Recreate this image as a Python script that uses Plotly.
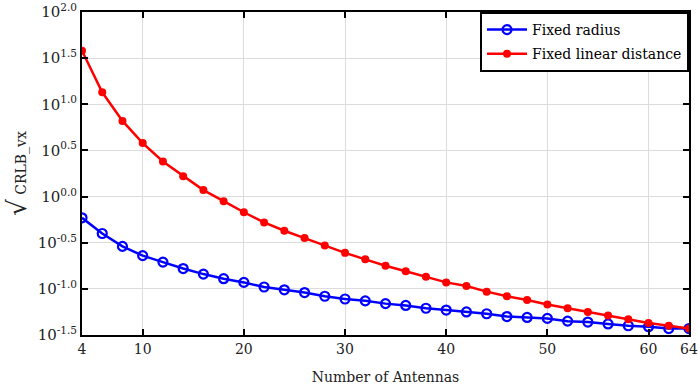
import plotly.graph_objects as go

antennas = list(range(4, 65, 2))
fixed_radius_exp = [-0.23, -0.40, -0.54, -0.64, -0.71, -0.78, -0.84, -0.89, -0.93, -0.98,
                    -1.01, -1.04, -1.08, -1.11, -1.13, -1.16, -1.18, -1.21, -1.23, -1.25,
                    -1.27, -1.30, -1.31, -1.32, -1.35, -1.36, -1.38, -1.40, -1.41, -1.43, -1.43]
fixed_linear_exp = [1.58, 1.13, 0.82, 0.58, 0.38, 0.22, 0.07, -0.05, -0.17, -0.28,
                    -0.37, -0.45, -0.53, -0.61, -0.68, -0.75, -0.81, -0.87, -0.93, -0.97,
                    -1.03, -1.08, -1.12, -1.17, -1.21, -1.25, -1.29, -1.33, -1.37, -1.40, -1.43]
fixed_radius = [10 ** e for e in fixed_radius_exp]
fixed_linear = [10 ** e for e in fixed_linear_exp]

x_ticks = [4, 10, 20, 30, 40, 50, 60, 64]
y_tick_exps = [-1.5, -1.0, -0.5, 0.0, 0.5, 1.0, 1.5, 2.0]
y_tick_labels = ["10<sup>%s</sup>" % ("%.1f" % e) for e in y_tick_exps]

FONT = "DejaVu Serif"

fig = go.Figure()
fig.add_trace(go.Scatter(
    x=antennas, y=fixed_radius, mode="lines+markers", name="Fixed radius",
    legendgroup="a",
    line=dict(color="#0000ff", width=2.5),
    marker=dict(symbol="circle-open", size=9, color="#0000ff", line=dict(width=2.2)),
))
fig.add_trace(go.Scatter(
    x=antennas, y=fixed_linear, mode="lines+markers", name="Fixed linear distance",
    legendgroup="b",
    line=dict(color="#ff0000", width=2.5),
    marker=dict(symbol="circle", size=8, color="#ff0000"),
))

fig.update_layout(
    width=699, height=387,
    margin=dict(l=82, r=10, t=12, b=52, autoexpand=False),
    paper_bgcolor="white", plot_bgcolor="white",
    font=dict(family=FONT, size=13, color="#222222"),
    legend=dict(x=1, xanchor="right", y=1, yanchor="top",
                bordercolor="black", borderwidth=2, bgcolor="white",
                font=dict(family=FONT, size=14, color="black"),
                tracegroupgap=3, itemwidth=40, traceorder="grouped"),
    showlegend=True,
)
fig.update_xaxes(
    range=[4, 64], tickvals=x_ticks, ticktext=[str(v) for v in x_ticks],
    automargin=False,
    showline=True, linecolor="black", linewidth=2, mirror="ticks",
    ticks="inside", ticklen=6, tickcolor="black", tickwidth=1.5,
    showgrid=True, gridcolor="#dcdcdc", gridwidth=1.2, zeroline=False,
    tickfont=dict(family=FONT, size=14, color="#222222"),
    title=dict(text="Number of Antennas", font=dict(family=FONT, size=14, color="#222222"), standoff=16),
)
fig.update_yaxes(
    type="log", range=[-1.5, 2.0],
    tickvals=[10 ** e for e in y_tick_exps], ticktext=y_tick_labels,
    automargin=False,
    showline=True, linecolor="black", linewidth=2, mirror="ticks",
    ticks="inside", ticklen=6, tickcolor="black", tickwidth=1.5,
    showgrid=True, gridcolor="#dcdcdc", gridwidth=1.2, zeroline=False,
    tickfont=dict(family=FONT, size=15, color="#222222"),
    title=dict(text="<span style='font-size:26px'>√</span> CRLB_vx",
               font=dict(family=FONT, size=14, color="#222222"), standoff=8),
)

fig.write_html("out.html", config={"displayModeBar": False},
               post_script="document.body.style.margin='0';document.body.style.overflow='hidden';")
